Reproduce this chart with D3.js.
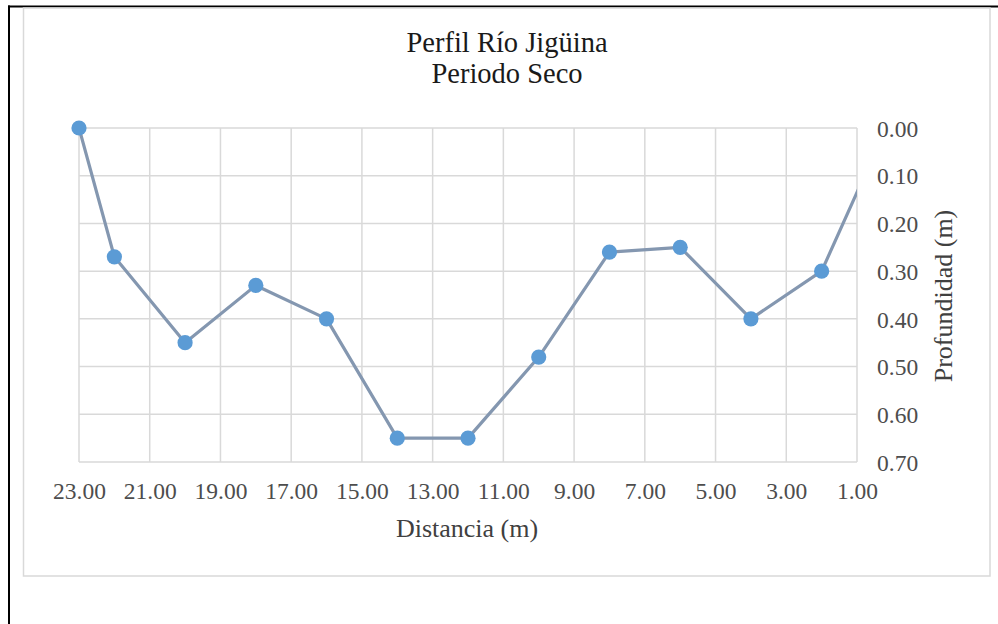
<!DOCTYPE html>
<html>
<head>
<meta charset="utf-8">
<script src="https://cdn.jsdelivr.net/npm/d3@7"></script>
<style>
  html, body { margin: 0; padding: 0; background: #fff; }
  svg { display: block; }
  text { font-family: "Liberation Serif", "Times New Roman", serif; }
</style>
</head>
<body>
<svg id="chart" width="998" height="624"></svg>
<script>
// Cross-section survey: distance across the river and measured depth
const distancia = [23, 22, 20, 18, 16, 14, 12, 10, 8, 6, 4, 2, 0];
const profundidad = [0.00, 0.27, 0.45, 0.33, 0.40, 0.65, 0.65, 0.48, 0.26, 0.25, 0.40, 0.30, -0.03];
const xTicks = [23, 21, 19, 17, 15, 13, 11, 9, 7, 5, 3, 1];
const yTicks = [0, 0.1, 0.2, 0.3, 0.4, 0.5, 0.6, 0.7];
const tituloLineas = ["Perfil Río Jigüina", "Periodo Seco"];
const tituloX = "Distancia (m)";
const tituloY = "Profundidad (m)";

const svg = d3.select("#chart");
const plot = { left: 79, right: 857, top: 128, bottom: 462 };
const serif = "'Liberation Serif', 'Times New Roman', serif";

const x = d3.scaleLinear().domain([23, 1]).range([plot.left, plot.right]);
const y = d3.scaleLinear().domain([0, 0.7]).range([plot.top, plot.bottom]);

// outer frame (left and top rules)
svg.append("line").attr("x1", 9).attr("x2", 9).attr("y1", 5.5).attr("y2", 624)
  .attr("stroke", "#000").attr("stroke-width", 2);
svg.append("line").attr("x1", 8).attr("x2", 998).attr("y1", 6.5).attr("y2", 6.5)
  .attr("stroke", "#000").attr("stroke-width", 2);

// chart area border
svg.append("rect").attr("x", 23.5).attr("y", 8).attr("width", 966.5).attr("height", 568)
  .attr("fill", "#fff").attr("stroke", "#d9d9d9").attr("stroke-width", 1.5);

// gridlines
const grid = svg.append("g");
grid.selectAll("line.gx").data(xTicks).join("line")
  .attr("x1", d => x(d)).attr("x2", d => x(d))
  .attr("y1", plot.top).attr("y2", plot.bottom)
  .attr("stroke", "#d9d9d9").attr("stroke-width", 1.5);
grid.selectAll("line.gy").data(yTicks).join("line")
  .attr("x1", plot.left).attr("x2", plot.right)
  .attr("y1", d => y(d)).attr("y2", d => y(d))
  .attr("stroke", "#d9d9d9").attr("stroke-width", 1.5);

// axes (labels only, no domain lines)
const xAxis = d3.axisBottom(x).tickValues(xTicks).tickFormat(d3.format(".2f")).tickSize(0).tickPadding(0);
const gx = svg.append("g").attr("transform", `translate(0,${plot.bottom})`).call(xAxis);
gx.select(".domain").remove();
gx.selectAll("text").attr("dy", null).attr("y", 37)
  .attr("font-size", 23.5).attr("fill", "#4d4d4d")
  .style("font-family", serif);

const yAxis = d3.axisRight(y).tickValues(yTicks).tickFormat(d3.format(".2f")).tickSize(0).tickPadding(0);
const gy = svg.append("g").attr("transform", `translate(${plot.right},0)`).call(yAxis);
gy.select(".domain").remove();
gy.selectAll("text").attr("x", 20).attr("dy", "0.35em")
  .attr("font-size", 23.5).attr("fill", "#4d4d4d")
  .style("font-family", serif);

// profile line, clipped to the plot area
svg.append("clipPath").attr("id", "plotClip").append("rect")
  .attr("x", plot.left).attr("y", plot.top - 20)
  .attr("width", plot.right - plot.left).attr("height", plot.bottom - plot.top + 40);

const pts = distancia.map((d, i) => ({ d, p: profundidad[i] }));
const line = d3.line().x(v => x(v.d)).y(v => y(v.p));
svg.append("path").datum(pts)
  .attr("clip-path", "url(#plotClip)")
  .attr("fill", "none").attr("stroke", "#8497b0").attr("stroke-width", 3.2)
  .attr("stroke-linejoin", "round")
  .attr("d", line);

// markers for points inside the axis range
svg.append("g").selectAll("circle")
  .data(pts.filter(v => v.d >= 1 && v.d <= 23))
  .join("circle")
  .attr("cx", v => x(v.d)).attr("cy", v => y(v.p)).attr("r", 7.6)
  .attr("fill", "#5b9bd5");

// titles
svg.append("text").attr("x", 507).attr("y", 52).attr("text-anchor", "middle")
  .attr("font-size", 28.5).attr("fill", "#1a1a1a")
  .selectAll("tspan").data(tituloLineas).join("tspan")
  .attr("x", 507).attr("dy", (d, i) => i === 0 ? 0 : 30.5).text(d => d);

svg.append("text").attr("x", 467).attr("y", 537).attr("text-anchor", "middle")
  .attr("font-size", 26).attr("fill", "#404040").text(tituloX);

svg.append("text").attr("transform", "translate(952,296) rotate(-90)")
  .attr("text-anchor", "middle")
  .attr("font-size", 26).attr("fill", "#404040").text(tituloY);
</script>
</body>
</html>
